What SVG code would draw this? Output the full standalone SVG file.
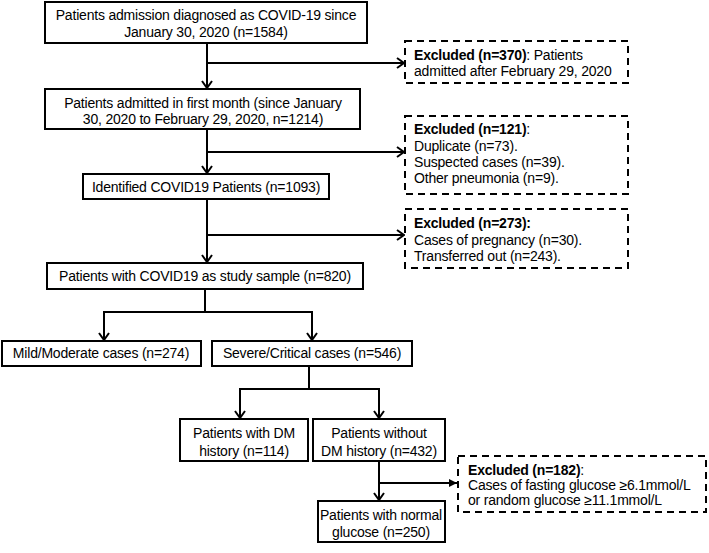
<svg xmlns="http://www.w3.org/2000/svg" width="709" height="553" viewBox="0 0 709 553">
<defs>
<style>
.box{fill:#fff;stroke:#000;stroke-width:2}
.ex{fill:#fff;stroke:#000;stroke-width:2;stroke-dasharray:7 5}
text{font-family:"Liberation Sans",Arial,sans-serif;font-size:14px;letter-spacing:-0.2px;fill:#000}
.c{text-anchor:middle}
.b{font-weight:bold}
.ln{fill:none;stroke:#000;stroke-width:2}
.ar{fill:none;stroke:#000;stroke-width:2;marker-end:url(#open)}
.arf{fill:none;stroke:#000;stroke-width:2;marker-end:url(#fill)}
</style>
<marker id="open" markerUnits="userSpaceOnUse" markerWidth="12" markerHeight="12" viewBox="0 0 12 12" refX="10" refY="6" orient="auto">
<path d="M3,1 L10,6 L3,11" fill="none" stroke="#000" stroke-width="2"/>
</marker>
<marker id="fill" markerUnits="userSpaceOnUse" markerWidth="10" markerHeight="10" viewBox="0 0 10 10" refX="9" refY="5" orient="auto">
<path d="M1,1 L9,5 L1,9 Z" fill="#000"/>
</marker>
</defs>

<g id="connectors">
<path class="ar" d="M207,43 V88"/>
<path class="ar" d="M207,63 H404"/>
<path class="ar" d="M207,129 V173"/>
<path class="ar" d="M207,152 H404"/>
<path class="ar" d="M207,199 V262"/>
<path class="ar" d="M207,235 H404"/>
<path class="ln" d="M205,289 V312 M103,312 H313"/>
<path class="ar" d="M104,312 V340"/>
<path class="ar" d="M312,312 V340"/>
<path class="ln" d="M309,366 V389 M239,389 H380"/>
<path class="ar" d="M240,389 V418"/>
<path class="ar" d="M379,389 V418"/>
<path class="ar" d="M379,461 V500"/>
<path class="arf" d="M379,483 H457"/>
</g>

<g id="n1">
<rect class="box" x="45" y="2" width="322" height="41"/>
<text class="c" x="206" y="20">Patients admission diagnosed as COVID-19 since</text>
<text class="c" x="206" y="37">January 30, 2020 (n=1584)</text>
</g>

<g id="ex1">
<rect class="ex" x="405" y="41" width="223" height="42"/>
<text x="414" y="60"><tspan class="b">Excluded (n=370)</tspan>: Patients</text>
<text x="414" y="76">admitted after February 29, 2020</text>
</g>

<g id="n2">
<rect class="box" x="45" y="89" width="315" height="40"/>
<text class="c" x="203" y="108">Patients admitted in first month (since January</text>
<text class="c" x="203" y="124">30, 2020 to February 29, 2020, n=1214)</text>
</g>

<g id="ex2">
<rect class="ex" x="405" y="116" width="223" height="78"/>
<text x="414" y="134"><tspan class="b">Excluded (n=121)</tspan>:</text>
<text x="414" y="150.5">Duplicate (n=73).</text>
<text x="414" y="167">Suspected cases (n=39).</text>
<text x="414" y="183">Other pneumonia  (n=9).</text>
</g>

<g id="n3">
<rect class="box" x="83" y="174" width="246" height="25"/>
<text class="c" x="206" y="192">Identified COVID19 Patients (n=1093)</text>
</g>

<g id="ex3">
<rect class="ex" x="405" y="209" width="223" height="59"/>
<text x="414" y="228"><tspan class="b">Excluded (n=273):</tspan></text>
<text x="414" y="245">Cases of pregnancy  (n=30).</text>
<text x="414" y="261">Transferred  out (n=243).</text>
</g>

<g id="n4">
<rect class="box" x="47" y="263" width="316" height="26"/>
<text class="c" x="205" y="281">Patients with COVID19 as study  sample (n=820)</text>
</g>

<g id="n5">
<rect class="box" x="2" y="341" width="199" height="25"/>
<text class="c" x="101" y="358">Mild/Moderate cases (n=274)</text>
</g>

<g id="n6">
<rect class="box" x="212" y="341" width="200" height="25"/>
<text class="c" x="312" y="358">Severe/Critical cases (n=546)</text>
</g>

<g id="n7">
<rect class="box" x="180" y="419" width="128" height="42"/>
<text class="c" x="244" y="438">Patients with DM</text>
<text class="c" x="244" y="456">history (n=114)</text>
</g>

<g id="n8">
<rect class="box" x="313" y="419" width="132" height="42"/>
<text class="c" x="379" y="438">Patients without</text>
<text class="c" x="379" y="456">DM history (n=432)</text>
</g>

<g id="ex4">
<rect class="ex" x="458" y="456" width="248" height="56"/>
<text x="468" y="475"><tspan class="b">Excluded (n=182)</tspan>:</text>
<text x="468" y="490">Cases of fasting glucose ≥6.1mmol/L</text>
<text x="468" y="505">or random glucose ≥11.1mmol/L</text>
</g>

<g id="n9">
<rect class="box" x="318" y="501" width="127" height="41"/>
<text class="c" x="381" y="520">Patients with normal</text>
<text class="c" x="381" y="537">glucose (n=250)</text>
</g>
</svg>
